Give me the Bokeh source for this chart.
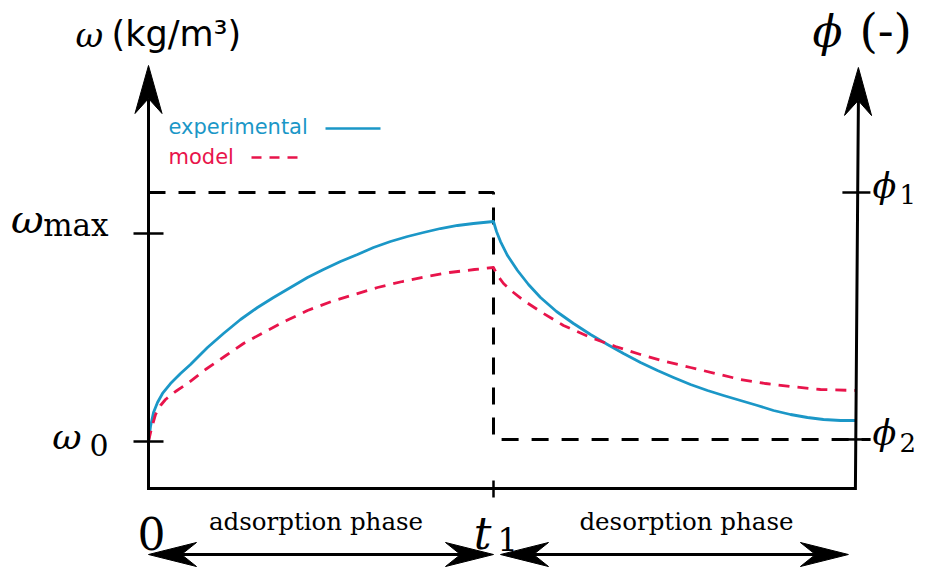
from bokeh.plotting import figure
from bokeh.models import Range1d
from bokeh.core.properties import value
from bokeh.embed import file_html
from bokeh.resources import INLINE

# ---------------- data (schematic units: time t1 = 1, omega: w0 = 0, wmax = 1) ----
t1 = 1.0
t_end = 2.049
w0 = 0.0
wmax = 1.0
phi1 = 1.197
phi2 = 0.01

exp_t = [0.0, 0.0058, 0.0145, 0.0261, 0.0406, 0.0638, 0.0928, 0.1217, 0.1710, 0.2174,
         0.2667, 0.3159, 0.3623, 0.4116, 0.4609, 0.5072, 0.5565, 0.6058, 0.6522, 0.7014,
         0.7507, 0.7971, 0.8464, 0.8957, 0.9420, 1.0,
         1.0087, 1.0203, 1.0406, 1.0696, 1.1014, 1.1362, 1.1826, 1.2319, 1.2812, 1.3304,
         1.3768, 1.4261, 1.4754, 1.5217, 1.5710, 1.6203, 1.6667, 1.7159, 1.7652, 1.8116,
         1.8609, 1.9101, 1.9565, 2.0058, 2.0493]
exp_w = [0.0, 0.0721, 0.1394, 0.1875, 0.2308, 0.2788, 0.3269, 0.3702, 0.4519, 0.5192,
         0.5865, 0.6442, 0.6923, 0.7404, 0.7885, 0.8269, 0.8654, 0.8990, 0.9327, 0.9615,
         0.9856, 1.0048, 1.0240, 1.0385, 1.0481, 1.0577,
         1.0096, 0.9615, 0.8942, 0.8221, 0.7548, 0.6923, 0.6250, 0.5673, 0.5144, 0.4663,
         0.4231, 0.3798, 0.3413, 0.3077, 0.2740, 0.2452, 0.2212, 0.1971, 0.1731, 0.1490,
         0.1298, 0.1154, 0.1058, 0.1010, 0.1010]

mod_t = [0.0, 0.0087, 0.0203, 0.0348, 0.0493, 0.0783, 0.1130, 0.1652, 0.2203, 0.2754,
         0.3333, 0.4000, 0.4609, 0.5304, 0.5971, 0.6638, 0.7362, 0.8058, 0.8725, 0.9449,
         1.0,
         1.0116, 1.0290, 1.0580, 1.0870, 1.1449, 1.2029, 1.2812, 1.3536, 1.4261, 1.4986,
         1.5710, 1.6435, 1.7159, 1.7884, 1.8609, 1.9478, 2.0493]
mod_w = [0.0, 0.0625, 0.1298, 0.1731, 0.2019, 0.2404, 0.2788, 0.3462, 0.4087, 0.4712,
         0.5240, 0.5817, 0.6298, 0.6731, 0.7067, 0.7404, 0.7692, 0.7933, 0.8125, 0.8269,
         0.8365,
         0.7981, 0.7596, 0.7163, 0.6779, 0.6154, 0.5577, 0.5000, 0.4567, 0.4183, 0.3846,
         0.3558, 0.3269, 0.2981, 0.2788, 0.2644, 0.2500, 0.2452]

omega_ticks = [w0, wmax]
omega_subs = ["0", "max"]
phi_ticks = [phi1, phi2]
phi_subs = ["1", "2"]
time_ticks = [0.0, t1]
phase_labels = ["adsorption phase", "desorption phase"]
series_names = ["experimental", "model"]

# ---------------- layout (pixels) ----------------
W, H = 918, 567
PX, PY = 345.0, 208.0          # pixels per data unit
OX, OY = 148.0, 441.0          # canvas pixel of (t=0, w=w0)
BLUE = "#1b97c7"
RED = "#e8144b"
SERIF = value("DejaVu Serif")
SANS = value("DejaVu Sans")
BASE_FIX = 0.30                # renderer places text lower than the baseline by ~this * size


def dxp(px):
    return px / PX


def dyp(py):
    return py / PY


def cpos(cx, cy):
    """canvas pixel (origin at top-left of the figure) -> data."""
    return (cx - OX) / PX, (OY - cy) / PY


p = figure(width=W, height=H, output_backend="svg", toolbar_location=None,
           x_range=Range1d(-OX / PX, (W - OX) / PX),
           y_range=Range1d(-(H - OY) / PY, OY / PY),
           x_axis_location=None, y_axis_location=None, min_border=0)
p.grid.visible = False
p.outline_line_color = None
p.background_fill_color = "white"
p.border_fill_color = "white"

floor = w0 - dyp(47)                 # horizontal axis level
left_tip = w0 + dyp(376)
right_tip = w0 + dyp(374)
right_top_x = t_end + dxp(3)
L_HEAD, W_HEAD, N_HEAD = 48, 13.5, 33

# ---- phase guide (dashed) ----
p.line([0.0, t1, t1, t_end + dxp(15)], [phi1, phi1, phi2, phi2],
       line_color="black", line_width=3, line_dash="17 13")

# ---- curves ----
p.line(exp_t, exp_w, line_color=BLUE, line_width=2.8, line_join="round")
p.line(mod_t, mod_w, line_color=RED, line_width=2.8, line_dash="11 8", line_join="round")

# ---- axes frame ----
p.line([0.0, 0.0, t_end, right_top_x],
       [left_tip - dyp(N_HEAD), floor, floor, right_tip - dyp(N_HEAD)],
       line_color="black", line_width=3, line_join="miter")


def head(tx, ty, ux, uy, L=L_HEAD, Wd=W_HEAD, N=N_HEAD):
    nx, ny = -uy, ux
    pts = [(0, 0), (-L * ux + Wd * nx, -L * uy + Wd * ny), (-N * ux, -N * uy),
           (-L * ux - Wd * nx, -L * uy - Wd * ny)]
    return [tx + dxp(a) for a, b in pts], [ty + dyp(b) for a, b in pts]


heads_x, heads_y = [], []
for hx, hy in [head(0.0, left_tip, 0, 1),
               head(right_top_x, right_tip, 3 / 421.0, 1)]:
    heads_x.append(hx)
    heads_y.append(hy)

# ---- phase double arrows ----
arrow_y = w0 - dyp(113)
spans = [(0.0, t1), (t1 + dxp(7), t_end - dxp(7))]
for a, b in spans:
    p.line([a + dxp(20), b - dxp(20)], [arrow_y, arrow_y], line_color="black", line_width=3)
    for hx, hy in [head(a, arrow_y, -1, 0, Wd=12), head(b, arrow_y, 1, 0, Wd=12)]:
        heads_x.append(hx)
        heads_y.append(hy)
p.patches(heads_x, heads_y, fill_color="black", line_color="black", line_width=1)

# ---- ticks ----
p.segment(x0=[-dxp(15)] * 2, x1=[dxp(15)] * 2, y0=omega_ticks, y1=omega_ticks,
          line_color="black", line_width=2.5)
p.segment(x0=[t_end - dxp(13)] * 2, x1=[t_end + dxp(15)] * 2, y0=phi_ticks, y1=phi_ticks,
          line_color="black", line_width=2.5)
p.segment(x0=[t1], x1=[t1], y0=[floor + dyp(8)], y1=[floor - dyp(9)],
          line_color="black", line_width=2.5)


def txt(x, y, s, size, font=SERIF, style="normal", align="left", color="black", xo=0, yo=0):
    p.text(x=[x], y=[y], text=[s], text_font=font, text_font_style=style,
           text_font_size=f"{size}px", text_align=align, text_baseline="alphabetic",
           text_color=color, x_offset=xo, y_offset=yo - BASE_FIX * size)


# omega tick labels
txt(0.0, omega_ticks[1], "ω", 40, style="italic", align="right", xo=-105, yo=-3)
txt(0.0, omega_ticks[1], omega_subs[1], 31, align="right", xo=-40, yo=1)
txt(0.0, omega_ticks[0], "ω", 36, style="italic", align="right", xo=-67, yo=6)
txt(0.0, omega_ticks[0], omega_subs[0], 30, align="right", xo=-40, yo=12)

# phi tick labels (kept inside the right edge)
txt(t_end, phi_ticks[0], "ϕ", 35, style="italic", xo=17, yo=4)
txt(t_end, phi_ticks[0], phi_subs[0], 26, xo=44, yo=10)
txt(t_end, phi_ticks[1], "ϕ", 35, style="italic", xo=17, yo=4)
txt(t_end, phi_ticks[1], phi_subs[1], 26, xo=44, yo=11)

# time tick labels
txt(time_ticks[0], floor, "0", 44, align="center", xo=3, yo=58)
txt(time_ticks[1], floor, "t", 44, style="italic", align="center", xo=-11, yo=58)
txt(time_ticks[1], floor, "1", 32, xo=4, yo=61)

# phase labels
txt((time_ticks[0] + t1) / 2, floor, phase_labels[0], 24.5, align="center", xo=-5, yo=40)
txt((t1 + t_end) / 2, floor, phase_labels[1], 24.5, align="center", xo=12, yo=40)

# axis titles
txt(0.0, left_tip, "ω", 34, style="italic", xo=-73, yo=-20)
txt(0.0, left_tip, "(kg/m³)", 35, font=SANS, xo=-37, yo=-21)
txt(right_top_x, right_tip, "ϕ", 44, style="italic", xo=-46, yo=-23)
txt(right_top_x, right_tip, "(-)", 47, xo=1, yo=-23)

# legend
lx, ly = cpos(168, 133)
txt(lx, ly, series_names[0], 21, font=SANS, color=BLUE)
lx2, ly2 = cpos(168, 163)
txt(lx2, ly2, series_names[1], 21, font=SANS, color=RED)
bx0, by = cpos(325, 128)
bx1, _ = cpos(380, 128)
p.line([bx0, bx1], [by, by], line_color=BLUE, line_width=2.6)
rx0, ry = cpos(251, 157)
rx1, _ = cpos(298, 157)
p.line([rx0, rx1], [ry, ry], line_color=RED, line_width=2.6, line_dash="10 8")

open("out.html", "w").write(file_html(p, INLINE))
